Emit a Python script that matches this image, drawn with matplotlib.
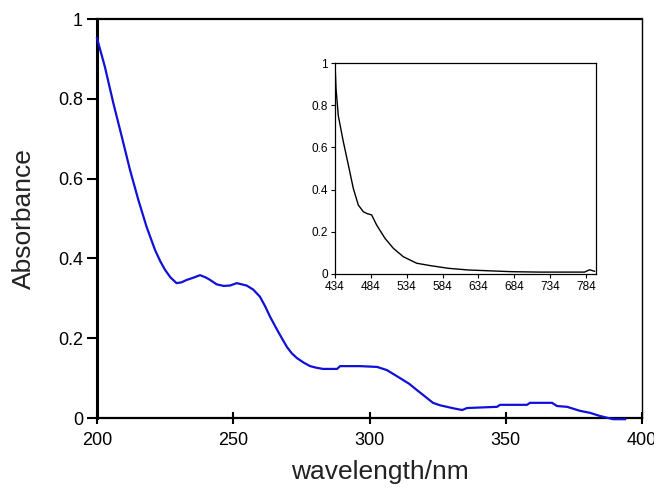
import matplotlib
matplotlib.use("Agg")
import matplotlib.pyplot as plt

plt.rcParams['font.family'] = ['Liberation Sans', 'DejaVu Sans']

# Main spectrum (200-400 nm)
main_wl = [200.0, 202.9, 206.0, 209.1, 212.1, 215.2, 218.2, 221.3, 223.2, 225.0,
           227.0, 229.2, 231.0, 232.9, 235.5, 237.8, 240.0, 241.5, 243.9, 246.5,
           248.8, 251.3, 254.9, 257.3, 259.8, 261.7, 263.5, 266.1, 268.0, 269.7,
           271.5, 273.4, 275.8, 278.2, 280.5, 282.9, 288.1, 289.2, 296.5, 302.8,
           306.4, 311.2, 314.5, 317.4, 321.1, 323.3, 325.8, 328.4, 331.0, 334.0,
           335.8, 346.8, 347.9, 357.8, 358.9, 367.0, 368.8, 372.5, 377.2, 380.9,
           384.6, 389.4, 393.8]
main_abs = [0.952, 0.880, 0.789, 0.705, 0.622, 0.546, 0.479, 0.421, 0.393, 0.371,
            0.352, 0.338, 0.340, 0.346, 0.352, 0.358, 0.352, 0.346, 0.335, 0.331,
            0.332, 0.338, 0.332, 0.322, 0.304, 0.280, 0.254, 0.221, 0.198, 0.178,
            0.162, 0.150, 0.139, 0.130, 0.126, 0.123, 0.123, 0.130, 0.130, 0.128,
            0.120, 0.100, 0.086, 0.070, 0.050, 0.038, 0.032, 0.028, 0.024, 0.020,
            0.025, 0.028, 0.033, 0.033, 0.038, 0.038, 0.030, 0.028, 0.018, 0.013,
            0.005, -0.003, -0.003]

# Inset spectrum (434-800 nm)
inset_wl = [434, 435.4, 438.6, 445.6, 452.6, 459.5, 466.5, 473.5, 479.0, 485.1,
            492.1, 503.7, 515.3, 529.2, 547.9, 566.4, 592, 620, 650, 680, 720,
            760, 782, 789, 796]
inset_abs = [1.0, 0.88, 0.75, 0.627, 0.517, 0.406, 0.327, 0.295, 0.286, 0.280,
             0.232, 0.169, 0.122, 0.082, 0.051, 0.040, 0.027, 0.019, 0.015, 0.011,
             0.009, 0.009, 0.009, 0.02, 0.013]

main_xticks = [200, 250, 300, 350, 400]
main_yticks = [0, 0.2, 0.4, 0.6, 0.8, 1.0]
main_ylabels = ['0', '0.2', '0.4', '0.6', '0.8', '1']
inset_xticks = [434, 484, 534, 584, 634, 684, 734, 784]
inset_yticks = [0, 0.2, 0.4, 0.6, 0.8, 1.0]
inset_ylabels = ['0', '0.2', '0.4', '0.6', '0.8', '1']

fig = plt.figure(figsize=(6.54, 4.90), dpi=100)

W, H = 654, 490
def rect(l, r, t, b):
    return [l / W, (H - b) / H, (r - l) / W, (b - t) / H]

ax = fig.add_axes(rect(97, 642, 19, 418))
ax.plot(main_wl, main_abs, color='#1010d8', lw=1.6, clip_on=False, zorder=3)
ax.set_xlim(200, 400)
ax.set_ylim(0, 1)
ax.set_xticks(main_xticks)
ax.set_xticklabels([str(v) for v in main_xticks])
ax.set_yticks(main_yticks)
ax.set_yticklabels(main_ylabels)
ax.spines['left'].set_linewidth(2.2)
ax.spines['bottom'].set_linewidth(1.6)
ax.spines['top'].set_linewidth(1.6)
ax.spines['right'].set_linewidth(1.0)
ax.tick_params(axis='y', direction='out', length=7, width=1.5, labelsize=13, pad=3)
ax.tick_params(axis='x', direction='inout', length=8, width=1.5, labelsize=13, pad=6)
ax.set_xlabel('wavelength/nm', fontsize=19, color='#222222')
ax.set_ylabel('Absorbance', fontsize=19, color='#222222')
ax.xaxis.set_label_coords(0.519, -0.105)
ax.yaxis.set_label_coords(-0.112, 0.50)

ins = fig.add_axes(rect(335, 596, 63, 274))
ins.plot(inset_wl, inset_abs, color='black', lw=1.0)
ins.set_xlim(434, 798)
ins.set_ylim(0, 1)
ins.set_xticks(inset_xticks)
ins.set_xticklabels([str(v) for v in inset_xticks])
ins.set_yticks(inset_yticks)
ins.set_yticklabels(inset_ylabels)
for s in ins.spines.values():
    s.set_linewidth(0.9)
ins.tick_params(axis='both', direction='out', length=3, width=0.8, labelsize=8.5, pad=2)

fig.savefig('out.png', dpi=100)
